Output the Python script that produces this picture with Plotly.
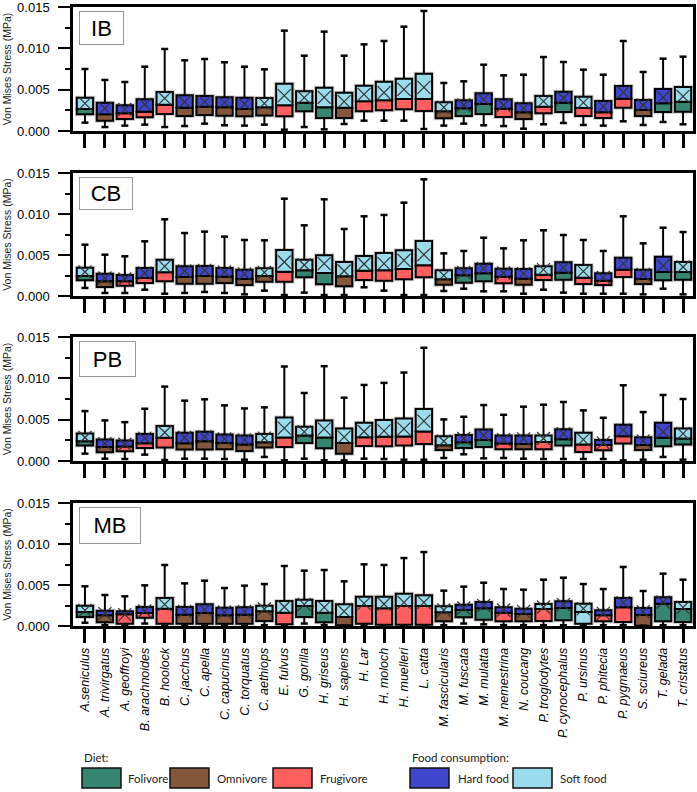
import plotly.graph_objects as go
from plotly.subplots import make_subplots

species = ["A.seniculus", "A. trivirgatus", "A. geoffroyi", "B. arachnoides", "B. hoolock",
           "C. jacchus", "C. apella", "C. capucinus", "C. torquatus", "C. aethiops",
           "E. fulvus", "G. gorilla", "H. griseus", "H. sapiens", "H. Lar", "H. moloch",
           "H. muelleri", "L. catta", "M. fascicularis", "M. fuscata", "M. mulatta",
           "M. nemestrina", "N. coucang", "P. troglodytes", "P. cynocephalus", "P. ursinus",
           "P. phitecia", "P. pygmaeus", "S. sciureus", "T. gelada", "T. cristatus"]

diet = ["Folivore", "Omnivore", "Frugivore", "Frugivore", "Frugivore",
        "Omnivore", "Omnivore", "Omnivore", "Omnivore", "Omnivore",
        "Frugivore", "Folivore", "Folivore", "Omnivore", "Frugivore", "Frugivore",
        "Frugivore", "Frugivore", "Omnivore", "Folivore", "Folivore",
        "Frugivore", "Omnivore", "Frugivore", "Folivore", "Frugivore",
        "Frugivore", "Frugivore", "Omnivore", "Folivore", "Folivore"]

food = ["Soft food", "Hard food", "Hard food", "Hard food", "Soft food",
        "Hard food", "Hard food", "Hard food", "Hard food", "Soft food",
        "Soft food", "Soft food", "Soft food", "Soft food", "Soft food", "Soft food",
        "Soft food", "Soft food", "Soft food", "Hard food", "Hard food",
        "Hard food", "Hard food", "Soft food", "Hard food", "Soft food",
        "Hard food", "Hard food", "Hard food", "Hard food", "Soft food"]

# in the MB panel the lower half of P. ursinus is drawn in the soft-food colour
mb_lower_override = {"P. ursinus": "Soft food"}

panels = ["IB", "CB", "PB", "MB"]

# ---- IB ----
ib_max = [0.00750, 0.00617, 0.00593, 0.00778, 0.00992, 0.00855, 0.00871, 0.00831, 0.00778, 0.00746,
          0.01214, 0.00911, 0.01202, 0.00911, 0.01048, 0.01089, 0.01262, 0.01452, 0.00581, 0.00601,
          0.00802, 0.00673, 0.00681, 0.00895, 0.00835, 0.00742, 0.00681, 0.01089, 0.00714, 0.00875, 0.00899]
ib_q3 = [0.00403, 0.00343, 0.00310, 0.00383, 0.00472, 0.00431, 0.00423, 0.00407, 0.00403, 0.00399,
         0.00573, 0.00480, 0.00524, 0.00464, 0.00548, 0.00597, 0.00633, 0.00694, 0.00347, 0.00371,
         0.00456, 0.00383, 0.00335, 0.00423, 0.00476, 0.00415, 0.00363, 0.00544, 0.00375, 0.00508, 0.00532]
ib_med = [0.00266, 0.00202, 0.00214, 0.00234, 0.00319, 0.00282, 0.00294, 0.00286, 0.00266, 0.00286,
          0.00310, 0.00343, 0.00286, 0.00282, 0.00359, 0.00371, 0.00387, 0.00387, 0.00238, 0.00274,
          0.00327, 0.00270, 0.00226, 0.00294, 0.00343, 0.00278, 0.00226, 0.00391, 0.00254, 0.00335, 0.00355]
ib_q1 = [0.00202, 0.00125, 0.00145, 0.00165, 0.00206, 0.00181, 0.00194, 0.00185, 0.00177, 0.00189,
         0.00177, 0.00238, 0.00157, 0.00157, 0.00238, 0.00250, 0.00262, 0.00242, 0.00153, 0.00181,
         0.00206, 0.00169, 0.00145, 0.00214, 0.00230, 0.00181, 0.00157, 0.00282, 0.00181, 0.00230, 0.00234]
ib_min = [0.00101, 0.00048, 0.00065, 0.00077, 0.00048, 0.00060, 0.00089, 0.00069, 0.00065, 0.00077,
          0.00016, 0.00048, 0.00020, 0.00085, 0.00125, 0.00125, 0.00125, 0.00024, 0.00065, 0.00089,
          0.00069, 0.00060, 0.00028, 0.00081, 0.00097, 0.00073, 0.00065, 0.00117, 0.00073, 0.00109, 0.00081]
ib_mean = [0.00335, 0.00274, 0.00262, 0.00323, 0.00395, 0.00351, 0.00355, 0.00343, 0.00327, 0.00335,
           0.00427, 0.00403, 0.00407, 0.00355, 0.00444, 0.00464, 0.00504, 0.00528, 0.00286, 0.00315,
           0.00383, 0.00315, 0.00274, 0.00359, 0.00399, 0.00343, 0.00294, 0.00468, 0.00315, 0.00407, 0.00419]

# ---- CB ----
cb_max = [0.00626, 0.00504, 0.00484, 0.00667, 0.00935, 0.00768, 0.00785, 0.00724, 0.00683, 0.00679,
          0.01187, 0.00862, 0.01179, 0.00817, 0.00972, 0.00988, 0.01138, 0.01423, 0.00520, 0.00549,
          0.00711, 0.00581, 0.00679, 0.00801, 0.00744, 0.00683, 0.00549, 0.00972, 0.00642, 0.00833, 0.00780]
cb_q3 = [0.00346, 0.00272, 0.00256, 0.00341, 0.00443, 0.00362, 0.00366, 0.00341, 0.00321, 0.00337,
         0.00561, 0.00443, 0.00496, 0.00415, 0.00488, 0.00524, 0.00557, 0.00671, 0.00313, 0.00337,
         0.00394, 0.00333, 0.00329, 0.00362, 0.00411, 0.00378, 0.00276, 0.00467, 0.00321, 0.00480, 0.00415]
cb_med = [0.00244, 0.00179, 0.00179, 0.00220, 0.00289, 0.00232, 0.00244, 0.00236, 0.00207, 0.00244,
          0.00297, 0.00313, 0.00280, 0.00240, 0.00309, 0.00313, 0.00329, 0.00374, 0.00203, 0.00252,
          0.00276, 0.00236, 0.00211, 0.00260, 0.00285, 0.00224, 0.00187, 0.00321, 0.00207, 0.00293, 0.00293]
cb_q1 = [0.00191, 0.00110, 0.00126, 0.00159, 0.00179, 0.00150, 0.00150, 0.00159, 0.00134, 0.00175,
         0.00175, 0.00228, 0.00142, 0.00118, 0.00195, 0.00187, 0.00203, 0.00228, 0.00138, 0.00163,
         0.00179, 0.00154, 0.00138, 0.00195, 0.00199, 0.00146, 0.00134, 0.00232, 0.00146, 0.00191, 0.00199]
cb_min = [0.00098, 0.00037, 0.00037, 0.00077, 0.00028, 0.00037, 0.00049, 0.00037, 0.00020, 0.00065,
          0.00012, 0.00041, 0.00012, 0.00012, 0.00106, 0.00065, 0.00012, 0.00012, 0.00061, 0.00089,
          0.00057, 0.00057, 0.00028, 0.00077, 0.00041, 0.00028, 0.00028, 0.00028, 0.00020, 0.00089, 0.00020]
cb_mean = [0.00293, 0.00220, 0.00207, 0.00280, 0.00362, 0.00305, 0.00313, 0.00293, 0.00268, 0.00289,
           0.00415, 0.00378, 0.00394, 0.00305, 0.00390, 0.00394, 0.00435, 0.00504, 0.00252, 0.00289,
           0.00333, 0.00280, 0.00272, 0.00321, 0.00346, 0.00301, 0.00228, 0.00394, 0.00264, 0.00370, 0.00354]

# ---- PB ----
pb_max = [0.00604, 0.00491, 0.00470, 0.00632, 0.00900, 0.00730, 0.00746, 0.00673, 0.00636, 0.00649,
          0.01143, 0.00823, 0.01147, 0.00766, 0.00920, 0.00945, 0.01070, 0.01370, 0.00503, 0.00535,
          0.00677, 0.00559, 0.00657, 0.00681, 0.00714, 0.00612, 0.00523, 0.00916, 0.00592, 0.00799, 0.00750]
pb_q3 = [0.00332, 0.00259, 0.00247, 0.00328, 0.00422, 0.00341, 0.00353, 0.00320, 0.00308, 0.00328,
         0.00527, 0.00414, 0.00491, 0.00393, 0.00462, 0.00495, 0.00515, 0.00628, 0.00300, 0.00316,
         0.00381, 0.00308, 0.00308, 0.00308, 0.00385, 0.00341, 0.00255, 0.00438, 0.00288, 0.00462, 0.00393]
pb_med = [0.00239, 0.00170, 0.00174, 0.00215, 0.00280, 0.00215, 0.00239, 0.00219, 0.00199, 0.00227,
          0.00284, 0.00308, 0.00284, 0.00219, 0.00288, 0.00292, 0.00296, 0.00357, 0.00191, 0.00227,
          0.00255, 0.00211, 0.00207, 0.00231, 0.00264, 0.00199, 0.00195, 0.00300, 0.00195, 0.00280, 0.00272]
pb_q1 = [0.00186, 0.00105, 0.00118, 0.00158, 0.00162, 0.00138, 0.00138, 0.00142, 0.00122, 0.00162,
         0.00170, 0.00219, 0.00154, 0.00089, 0.00182, 0.00178, 0.00186, 0.00207, 0.00134, 0.00158,
         0.00170, 0.00142, 0.00142, 0.00142, 0.00186, 0.00109, 0.00130, 0.00211, 0.00134, 0.00178, 0.00199]
pb_min = [0.00089, 0.00028, 0.00024, 0.00077, 0.00012, 0.00028, 0.00028, 0.00024, 0.00016, 0.00049,
          0.00008, 0.00028, 0.00008, 0.00008, 0.00028, 0.00024, 0.00016, 0.00016, 0.00036, 0.00081,
          0.00032, 0.00036, 0.00028, 0.00024, 0.00024, 0.00024, 0.00024, 0.00008, 0.00016, 0.00049, 0.00016]
pb_mean = [0.00284, 0.00211, 0.00203, 0.00276, 0.00345, 0.00284, 0.00292, 0.00268, 0.00255, 0.00276,
           0.00397, 0.00353, 0.00389, 0.00288, 0.00357, 0.00365, 0.00389, 0.00482, 0.00239, 0.00272,
           0.00312, 0.00259, 0.00268, 0.00272, 0.00332, 0.00259, 0.00219, 0.00373, 0.00243, 0.00353, 0.00332]

# ---- MB ----
mb_max = [0.00484, 0.00378, 0.00362, 0.00496, 0.00744, 0.00520, 0.00553, 0.00463, 0.00492, 0.00512,
          0.00732, 0.00675, 0.00683, 0.00545, 0.00752, 0.00744, 0.00829, 0.00902, 0.00431, 0.00480,
          0.00528, 0.00451, 0.00443, 0.00565, 0.00589, 0.00512, 0.00451, 0.00720, 0.00427, 0.00638, 0.00565]
mb_q3 = [0.00248, 0.00187, 0.00179, 0.00232, 0.00341, 0.00232, 0.00264, 0.00224, 0.00228, 0.00248,
         0.00305, 0.00321, 0.00305, 0.00264, 0.00358, 0.00358, 0.00394, 0.00374, 0.00240, 0.00260,
         0.00293, 0.00228, 0.00211, 0.00268, 0.00301, 0.00272, 0.00191, 0.00341, 0.00220, 0.00350, 0.00293]
mb_med = [0.00171, 0.00130, 0.00142, 0.00159, 0.00211, 0.00138, 0.00159, 0.00130, 0.00138, 0.00179,
          0.00163, 0.00244, 0.00163, 0.00110, 0.00244, 0.00215, 0.00244, 0.00244, 0.00167, 0.00195,
          0.00215, 0.00163, 0.00146, 0.00207, 0.00220, 0.00171, 0.00130, 0.00228, 0.00134, 0.00272, 0.00207]
mb_q1 = [0.00110, 0.00045, 0.00028, 0.00102, 0.00028, 0.00028, 0.00028, 0.00028, 0.00028, 0.00061,
         0.00020, 0.00110, 0.00045, 0.00008, 0.00028, 0.00016, 0.00016, 0.00016, 0.00057, 0.00106,
         0.00077, 0.00057, 0.00057, 0.00061, 0.00069, 0.00028, 0.00057, 0.00049, 0.00004, 0.00057, 0.00049]
mb_min = [0.00040, 0.00010, 0.00005, 0.00030, 0.00005, 0.00005, 0.00005, 0.00005, 0.00005, 0.00010,
          0.00005, 0.00030, 0.00010, 0.00002, 0.00005, 0.00005, 0.00005, 0.00005, 0.00010, 0.00030,
          0.00020, 0.00010, 0.00010, 0.00010, 0.00010, 0.00005, 0.00010, 0.00010, 0.00002, 0.00010, 0.00010]
mb_mean = [0.00191, 0.00150, 0.00138, 0.00183, 0.00264, 0.00179, 0.00199, 0.00171, 0.00175, 0.00207,
           0.00232, 0.00264, 0.00228, 0.00179, 0.00276, 0.00268, 0.00289, 0.00289, 0.00195, 0.00220,
           0.00252, 0.00195, 0.00179, 0.00232, 0.00260, 0.00211, 0.00154, 0.00285, 0.00175, 0.00293, 0.00228]

stats = {
    "IB": (ib_min, ib_q1, ib_med, ib_q3, ib_max, ib_mean),
    "CB": (cb_min, cb_q1, cb_med, cb_q3, cb_max, cb_mean),
    "PB": (pb_min, pb_q1, pb_med, pb_q3, pb_max, pb_mean),
    "MB": (mb_min, mb_q1, mb_med, mb_q3, mb_max, mb_mean),
}

diet_colors = {"Folivore": "#368571", "Omnivore": "#84573A", "Frugivore": "#FF5F5F"}
food_colors = {"Hard food": "#3D46CD", "Soft food": "#9ADCEC"}
all_colors = {**diet_colors, **food_colors}

FONT = "Liberation Sans"
W, H = 697, 792
ML, MR, MT, MB_ = 73, 4, 7, 166
PW = W - ML - MR
PH = H - MT - MB_

# panel pixel extents (top, bottom)
panel_px = [(7, 131), (173, 296), (337, 461), (503, 626)]
label_box = {"IB": (45, 34), "CB": (54, 33), "PB": (57, 36), "MB": (62, 37)}


def py(y):
    return (H - MB_ - y) / PH


def px(x):
    return (x - ML) / PW


fig = make_subplots(rows=4, cols=1)
xs = list(range(len(species)))
bw = 0.82

for r, name in enumerate(panels, start=1):
    mn, q1, md, q3, mx, mean = stats[name]
    lower_cats = list(diet)
    if name == "MB":
        lower_cats = [mb_lower_override.get(s, d) for s, d in zip(species, diet)]
    # light halo around each box
    fig.add_trace(go.Bar(x=xs, base=q1, y=[b - a for a, b in zip(q1, q3)], width=bw,
                         marker=dict(color="rgba(0,0,0,0)", line=dict(color="#d2d2d2", width=4)),
                         hoverinfo="skip"), row=r, col=1)
    fig.add_trace(go.Bar(x=xs, base=q1, y=[b - a for a, b in zip(q1, md)], width=bw,
                         marker=dict(color=[all_colors[d] for d in lower_cats],
                                     line=dict(color="black", width=2))), row=r, col=1)
    fig.add_trace(go.Bar(x=xs, base=md, y=[b - a for a, b in zip(md, q3)], width=bw,
                         marker=dict(color=[food_colors[f] for f in food],
                                     line=dict(color="black", width=2))), row=r, col=1)
    wx, wy = [], []
    for i in xs:
        wx += [i, i, None, i, i, None]
        wy += [mn[i], q1[i], None, q3[i], mx[i], None]
    fig.add_trace(go.Scatter(x=wx, y=wy, mode="lines", line=dict(color="black", width=2),
                             hoverinfo="skip"), row=r, col=1)
    fig.add_trace(go.Scatter(x=xs + xs, y=mn + mx, mode="markers",
                             marker=dict(symbol="line-ew-open", size=5, color="black",
                                         line=dict(color="black", width=2.5))), row=r, col=1)
    fig.add_trace(go.Scatter(x=xs, y=mean, mode="markers",
                             marker=dict(symbol="x-thin-open", size=13, color="#333333",
                                         line=dict(color="#333333", width=1.2))), row=r, col=1)

    top, bot = panel_px[r - 1]
    yax = "yaxis" if r == 1 else f"yaxis{r}"
    xax = "xaxis" if r == 1 else f"xaxis{r}"
    fig.layout[yax].domain = [py(bot), py(top)]
    fig.layout[xax].domain = [0, 1]

    fig.update_xaxes(row=r, col=1, range=[-0.6, 30.5], tickmode="array", tickvals=xs,
                     ticktext=species, showticklabels=(r == 4), tickangle=-90,
                     tickfont=dict(family=FONT, size=12.5, color="black", style="italic"),
                     ticks="outside", ticklen=14, tickwidth=2.5, tickcolor="black",
                     showline=True, linewidth=2.5, linecolor="black", mirror=True,
                     showgrid=False, zeroline=False, automargin=False,
                     ticklabeloverflow="allow")
    fig.update_yaxes(row=r, col=1, range=[0, 0.015], tickmode="array",
                     tickvals=[0, 0.005, 0.010, 0.015],
                     ticktext=["0.000", "0.005", "0.010", "0.015"],
                     tickfont=dict(family=FONT, size=13, color="black"),
                     ticks="outside", ticklen=12, tickwidth=2, tickcolor="black",
                     ticklabelstandoff=6, ticklabeloverflow="allow",
                     minor=dict(tickvals=[0.0025, 0.0075, 0.0125], ticks="outside",
                                ticklen=5, tickwidth=2, tickcolor="black"),
                     showline=True, linewidth=2.5, linecolor="black", mirror=True,
                     showgrid=False, zeroline=False, automargin=False,
                     title=dict(text="Von Mises Stress (MPa)", standoff=4,
                                font=dict(family=FONT, size=10.5, color="#222")))

    bwid, bhei = label_box[name]
    fig.add_annotation(xref="paper", yref="paper", x=px(79), y=py(top + 4),
                       xanchor="left", yanchor="top", text=name, showarrow=False,
                       width=bwid - 4, height=bhei - 4, borderpad=1,
                       bordercolor="#9a9a9a", borderwidth=1, bgcolor="white",
                       font=dict(family=FONT, size=22, color="black"))

# ---- legend (custom) ----
LFONT = "Lato"
legend_groups = [
    ("Diet:", 82, [("Folivore", diet_colors["Folivore"], 82, 126),
                   ("Omnivore", diet_colors["Omnivore"], 170, 215),
                   ("Frugivore", diet_colors["Frugivore"], 273, 318)]),
    ("Food consumption:", 410, [("Hard food", food_colors["Hard food"], 410, 456),
                                ("Soft food", food_colors["Soft food"], 513, 558)]),
]
for title, tx, items in legend_groups:
    fig.add_annotation(xref="paper", yref="paper", x=px(tx), y=py(757), xanchor="left",
                       yanchor="middle", text=title, showarrow=False,
                       font=dict(family=LFONT, size=11.5, color="#222"))
    for lab, col, sx, lx in items:
        fig.add_shape(type="rect", xref="paper", yref="paper", x0=px(sx), x1=px(sx + 39),
                      y0=py(788), y1=py(768), fillcolor=col,
                      line=dict(color="#111", width=1.5))
        fig.add_annotation(xref="paper", yref="paper", x=px(lx), y=py(778), xanchor="left",
                           yanchor="middle", text=lab, showarrow=False,
                           font=dict(family=LFONT, size=11.5, color="#222"))

fig.update_layout(width=W, height=H, margin=dict(l=ML, r=MR, t=MT, b=MB_, autoexpand=False),
                  plot_bgcolor="white", paper_bgcolor="white", showlegend=False,
                  barmode="overlay", font=dict(family=FONT))

fig.write_html("out.html", config={"displayModeBar": False},
               post_script="document.body.style.margin='0';document.body.style.padding='0';"
                           "document.body.style.overflow='hidden';")
